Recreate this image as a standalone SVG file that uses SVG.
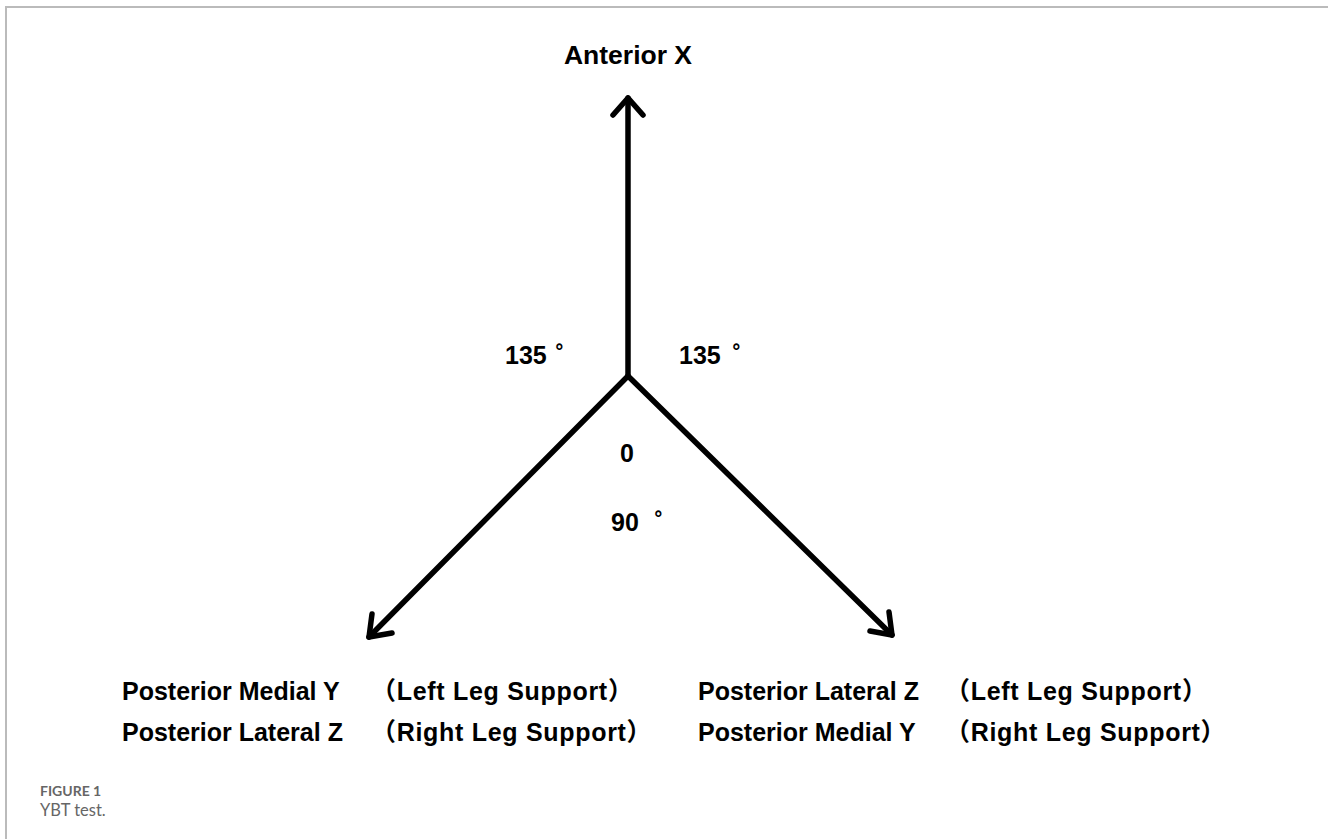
<svg xmlns="http://www.w3.org/2000/svg" width="1328" height="839" viewBox="0 0 1328 839">
<style>
.lbl{font-family:"Liberation Sans",Arial,"Noto Sans CJK SC",sans-serif;font-weight:bold;font-size:25px;fill:#000}
.sup{letter-spacing:0.7px}
.conn{stroke:#000;stroke-width:5.5;fill:none;stroke-linecap:round;stroke-linejoin:round}
.cap1{font-family:Lato,"Liberation Sans",sans-serif;font-weight:bold;font-size:14px;fill:#666}
.cap2{font-family:Lato,"Liberation Sans",sans-serif;font-size:16.5px;fill:#666}
</style>
<rect width="1328" height="839" fill="#fff"/>
<path d="M6 839 V7 H1328" stroke="#bbb" stroke-width="2" fill="none"/>
<g id="connectors">
<path class="conn" d="M628 376 V98"/>
<path class="conn" d="M613 115 L628 98 L643 115"/>
<path class="conn" d="M628 376 L369 637"/>
<path class="conn" d="M372 614 L369 637 L392 633"/>
<path class="conn" d="M628 376 L892 635"/>
<path class="conn" d="M870 631 L892 635 L889 612"/>
</g>
<g id="anterior"><text class="lbl" x="628" y="64" text-anchor="middle" style="font-size:26.5px">Anterior X</text></g>
<g id="angle-left"><text class="lbl" x="505" y="364">135<tspan dx="9">˚</tspan></text></g>
<g id="angle-right"><text class="lbl" x="679" y="364">135<tspan dx="12">˚</tspan></text></g>
<g id="center"><text class="lbl" x="627" y="462" text-anchor="middle">0</text></g>
<g id="angle-bottom"><text class="lbl" x="611" y="531">90<tspan dx="16">˚</tspan></text></g>
<g id="left-labels">
<text class="lbl" x="122" y="700">Posterior Medial Y<tspan class="sup" x="371">（Left Leg Support）</tspan></text>
<text class="lbl" x="122" y="741">Posterior Lateral Z<tspan class="sup" x="371">（Right Leg Support）</tspan></text>
</g>
<g id="right-labels">
<text class="lbl" x="698" y="700">Posterior Lateral Z<tspan class="sup" x="945">（Left Leg Support）</tspan></text>
<text class="lbl" x="698" y="741">Posterior Medial Y<tspan class="sup" x="945">（Right Leg Support）</tspan></text>
</g>
<g id="caption">
<text class="cap1" x="40" y="796">FIGURE 1</text>
<text class="cap2" x="40" y="816">YBT test.</text>
</g>
</svg>
